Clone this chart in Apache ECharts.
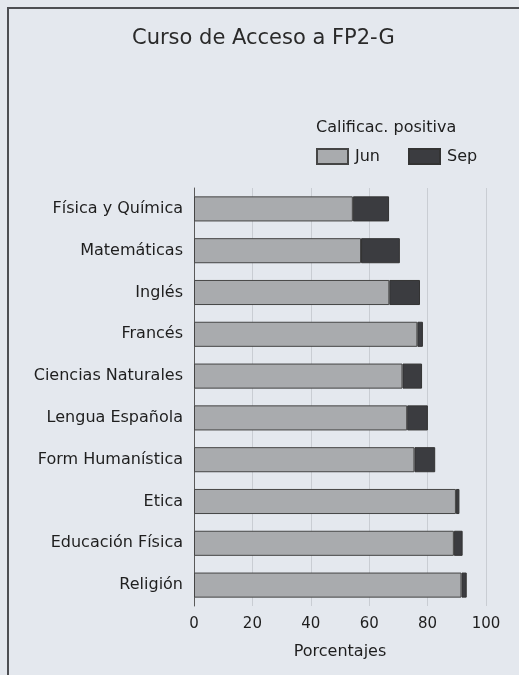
<!DOCTYPE html>
<html>
<head>
<meta charset="utf-8">
<script src="https://cdn.jsdelivr.net/npm/echarts@6/dist/echarts.min.js"></script>
<style>
  html, body { margin: 0; padding: 0; background: #e4e8ee; }
  #chart { width: 519px; height: 675px; }
</style>
</head>
<body>
<div id="chart"></div>
<script>
// asignaturas, de arriba a abajo
const categories = [
  "Física y Química",
  "Matemáticas",
  "Inglés",
  "Francés",
  "Ciencias Naturales",
  "Lengua Española",
  "Form Humanística",
  "Etica",
  "Educación Física",
  "Religión"
];
// porcentaje de calificación positiva en junio / septiembre
const junData = [54.4, 57.2, 66.9, 76.5, 71.4, 73.0, 75.5, 89.7, 89.0, 91.6];
const sepData = [12.4, 13.3, 10.5, 1.9, 6.7, 7.1, 7.1, 1.2, 3.0, 1.8];
const xTicks = [0, 20, 40, 60, 80, 100];

const font = "DejaVu Sans";
const ink = "#1e1e1e";

const chart = echarts.init(document.getElementById("chart"));

chart.setOption({
  backgroundColor: "#e4e8ee",
  animation: false,
  textStyle: { fontFamily: font, color: ink },
  title: [
    {
      text: "Curso de Acceso a FP2-G",
      left: 127,
      top: 23,
      textStyle: { fontFamily: font, fontSize: 21, fontWeight: "normal", color: "#2a2a2a" }
    },
    {
      text: "Calificac. positiva",
      left: 311,
      top: 115,
      textStyle: { fontFamily: font, fontSize: 16, fontWeight: "normal", color: ink }
    }
  ],
  legend: {
    data: ["Jun", "Sep"],
    left: 311,
    top: 143,
    itemWidth: 31,
    itemHeight: 15,
    itemGap: 28,
    icon: "rect",
    textStyle: { fontFamily: font, fontSize: 16, color: ink, padding: [0, 0, 0, 2] }
  },
  grid: {
    left: 194,
    right: 33,
    top: 188,
    bottom: 69
  },
  xAxis: {
    type: "value",
    min: xTicks[0],
    max: xTicks[xTicks.length - 1],
    interval: 20,
    name: "Porcentajes",
    nameLocation: "middle",
    nameGap: 38,
    nameTextStyle: { fontFamily: font, fontSize: 16, color: ink },
    axisLine: { show: false },
    axisTick: { show: false },
    axisLabel: { fontFamily: font, fontSize: 15, color: ink, margin: 11 },
    splitLine: { show: true, lineStyle: { color: "#c9cdd3", width: 1 } }
  },
  yAxis: {
    type: "category",
    data: categories,
    inverse: true,
    axisLine: { show: true, lineStyle: { color: "#5a5a5a", width: 1 } },
    axisTick: { show: false },
    axisLabel: { fontFamily: font, fontSize: 16, color: ink, margin: 11 }
  },
  series: [
    {
      name: "Jun",
      type: "bar",
      stack: "total",
      barWidth: "60%",
      data: junData,
      itemStyle: { color: "#a9abae", borderColor: "#454545", borderWidth: 1 }
    },
    {
      name: "Sep",
      type: "bar",
      stack: "total",
      barWidth: "60%",
      data: sepData,
      itemStyle: { color: "#3b3c40", borderColor: "#333", borderWidth: 1 }
    }
  ],
  graphic: [
    {
      // marco de la figura escaneada
      type: "rect",
      shape: { x: 8, y: 8, width: 530, height: 690 },
      style: { fill: null, stroke: "#4d4f53", lineWidth: 2 },
      silent: true
    }
  ]
});
</script>
</body>
</html>
